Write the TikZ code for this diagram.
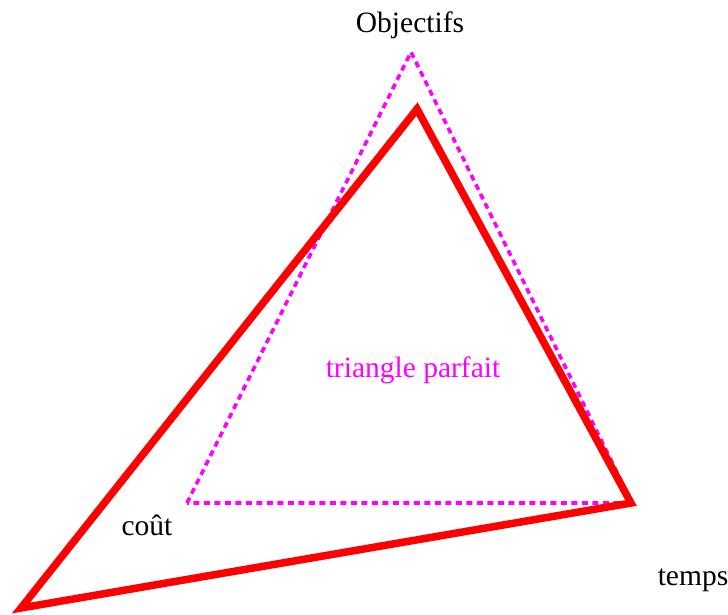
\documentclass[tikz,border=0pt]{standalone}
\usepackage{fontspec}
\setmainfont{Liberation Serif}
\definecolor{mag}{RGB}{255,0,255}
\definecolor{rd}{RGB}{255,0,0}
\begin{document}
\begin{tikzpicture}[x=1pt,y=-1pt,
  lbl/.style={inner sep=0pt,anchor=base,font=\fontsize{29.5}{31}\selectfont},
  perfect/.style={draw=mag,line width=3.6pt,dash pattern=on 6pt off 4.5pt},
  real/.style={draw=rd,line width=7.5pt,line join=miter}]
\useasboundingbox (0,0) rectangle (728,614);
\coordinate (pT) at (411,52);
\coordinate (pL) at (187,503);
\coordinate (pR) at (632,503);
\coordinate (rT) at (417,109);
\coordinate (rR) at (631,503);
\coordinate (rL) at (21,608);
\draw[perfect] (pL) -- (pT) -- (pR) -- cycle;
\draw[real] (rT) -- (rR) -- (rL) -- cycle;
\node[lbl] (obj) at (410,32) {Objectifs};
\node[lbl] (cout) at (147,535) {coût};
\node[lbl] (temps) at (693,585) {temps};
\node[lbl,text=mag] (tp) at (413,377) {triangle parfait};
\end{tikzpicture}
\end{document}
